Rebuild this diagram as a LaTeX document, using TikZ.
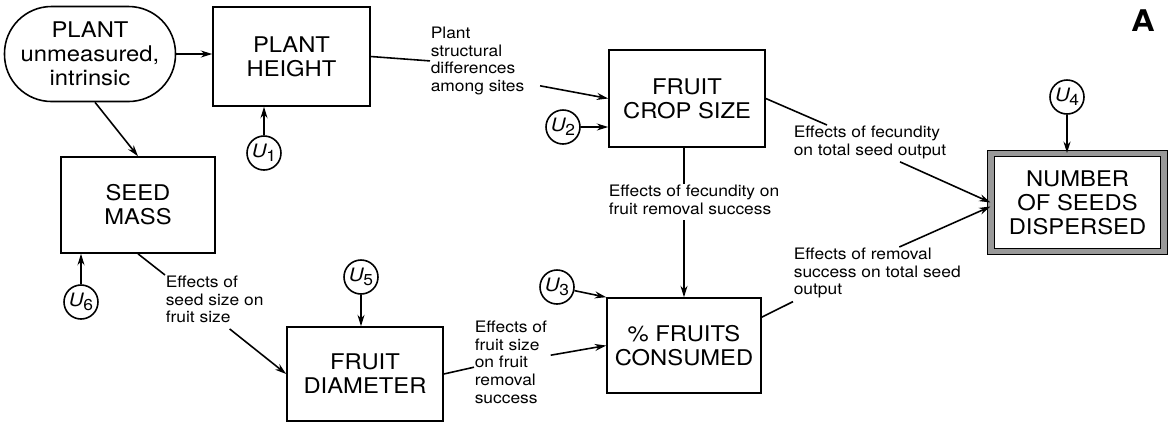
\documentclass[tikz,border=0pt]{standalone}
\usepackage{fontspec}
\setmainfont{TeX Gyre Heros}[FakeStretch=1.1]
\usetikzlibrary{arrows.meta}

\newcommand{\uvar}[1]{{\fontsize{10.5}{10.5}\selectfont\textit{U}\kern-0.5pt\raisebox{-0.4ex}{\fontsize{9}{9}\selectfont #1}}}

\begin{document}
\begin{tikzpicture}[>={Stealth[length=6.5pt,width=4pt]}, line width=0.9pt,
    varbox/.style={draw, align=center, font=\fontsize{12.3}{13.6}\selectfont, inner sep=0pt},
    errnode/.style={draw, circle, minimum size=0.68cm, inner sep=0pt},
    effect/.style={align=left, anchor=north west, inner sep=0pt, font=\fontsize{9}{10.1}\selectfont}]
        \useasboundingbox (0,0) rectangle (23.44,-8.56);

        \node[varbox, rounded corners=0.94cm, minimum width=3.42cm, minimum height=1.9cm] (plant) at (1.8,-1.08) {PLANT\\unmeasured,\\intrinsic};
        \node[varbox, minimum width=3.14cm, minimum height=1.98cm] (height) at (5.83,-1.13) {PLANT\\HEIGHT};
        \node[varbox, minimum width=3.08cm, minimum height=1.92cm] (seed) at (2.76,-4.1) {SEED\\MASS};
        \node[varbox, minimum width=3.12cm, minimum height=1.94cm] (crop) at (13.74,-1.97) {FRUIT\\CROP SIZE};
        \node[varbox, minimum width=3.12cm, minimum height=1.88cm] (diam) at (7.3,-7.48) {FRUIT\\DIAMETER};
        \node[varbox, minimum width=3.08cm, minimum height=1.9cm] (consumed) at (13.68,-6.91) {\% FRUITS\\CONSUMED};
        \node[varbox, line width=0.6pt, double=black!40, double distance=0.11cm, minimum width=3.46cm, minimum height=1.96cm] (seeds) at (21.55,-4.05) {NUMBER\\OF SEEDS\\DISPERSED};

        \node[errnode] (u1) at (5.28,-3.06) {\uvar{1}};
        \node[errnode] (u2) at (11.26,-2.54) {\uvar{2}};
        \node[errnode] (u3) at (11.14,-5.74) {\uvar{3}};
        \node[errnode] (u4) at (21.34,-1.94) {\uvar{4}};
        \node[errnode] (u5) at (7.22,-5.54) {\uvar{5}};
        \node[errnode] (u6) at (1.62,-6.04) {\uvar{6}};

        \node[effect] (lab_struct) at (8.6,-0.52) {Plant\\structural\\differences\\among sites};
        \node[effect] (lab_fec1) at (12.16,-3.68) {Effects of fecundity on\\fruit removal success};
        \node[effect] (lab_fec2) at (15.86,-2.5) {Effects of fecundity\\on total seed output};
        \node[effect] (lab_rem) at (15.86,-4.94) {Effects of removal\\success on total seed\\output};
        \node[effect] (lab_seedsize) at (3.3,-5.5) {Effects of\\seed size on\\fruit size};
        \node[effect] (lab_fruitsize) at (9.48,-6.4) {Effects of\\fruit size\\on fruit\\removal\\success};

        \node[font=\fontsize{17}{17}\bfseries] (panel) at (22.86,-0.42) {A};

        \path[->] (plant.east) edge (plant.east -| height.west);
        \path[->] ([xshift=0.1cm]plant.south) edge (seed.north);
        \path[->] (u1) edge (u1 |- height.south);
        \path[->] (u6) edge (u6 |- seed.south);
        \path[->] (u5) edge (u5 |- diam.north);
        \path[->] (u2) edge (u2 -| crop.west);
        \path[->] (u3) edge (consumed.north west);
        \path[->] (u4) edge (u4 |- seeds.north);

        \draw (height.east) -- (lab_struct.west);
        \path[->] ([shift={(0.3,0.2)}]lab_struct.south east) edge (crop.west);
        \draw (seed.south) -- (lab_seedsize.north west);
        \path[->] ([shift={(0.3,-0.1)}]lab_seedsize.south) edge (diam.west);
        \draw (diam.east) -- ([yshift=-0.1cm]lab_fruitsize.west);
        \path[->] ([shift={(0.06,0.14)}]lab_fruitsize.east) edge (consumed.west);
        \draw (crop.south -| consumed.north) -- (consumed.north |- lab_fec1.north);
        \path[->] ([yshift=-0.1cm]consumed.north |- lab_fec1.south) edge (consumed.north);
        \draw (crop.east) -- ([xshift=0.68cm]lab_fec2.north west);
        \path[->] ([shift={(0.6,-0.05)}]lab_fec2.south) edge (seeds.west);
        \draw (consumed.20) -- ([yshift=-0.05cm]lab_rem.south west);
        \path[->] ([xshift=0.44cm]lab_rem.north) edge ([yshift=-0.08cm]seeds.west);
    \end{tikzpicture}
\end{document}
